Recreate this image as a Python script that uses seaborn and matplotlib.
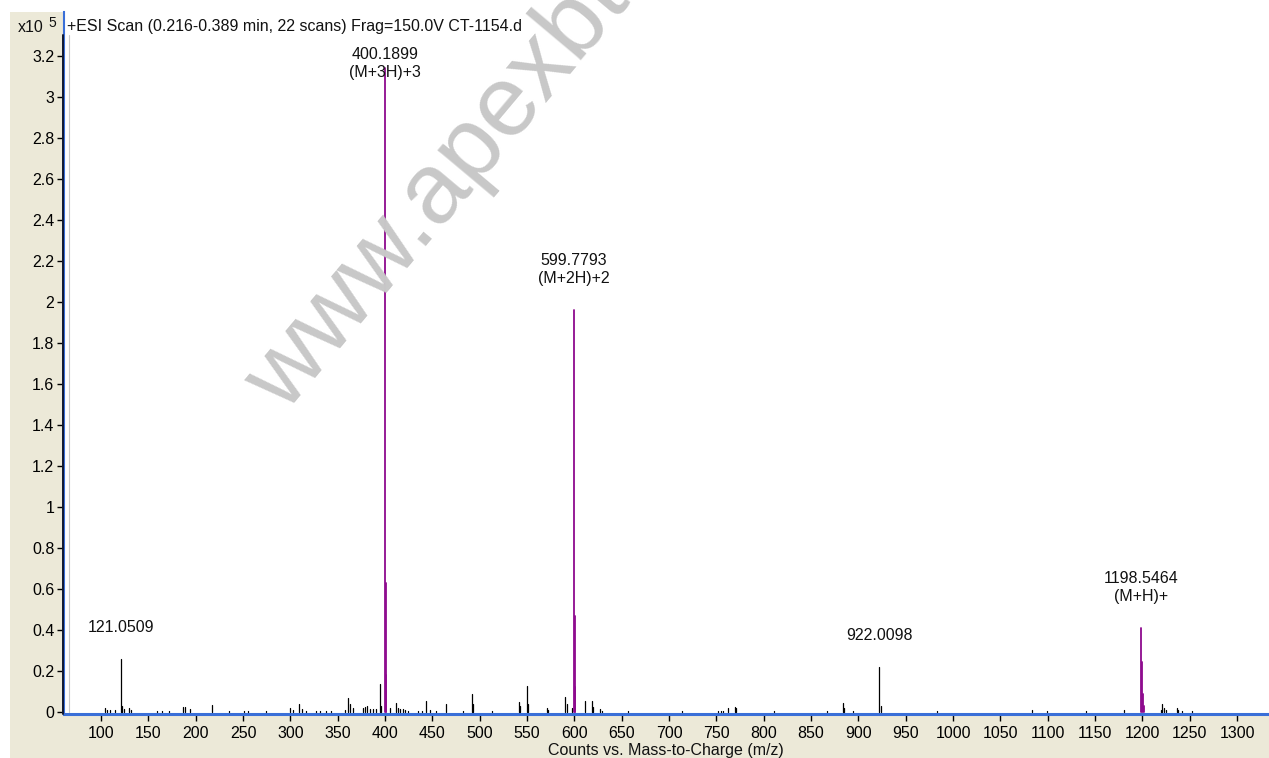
import matplotlib
matplotlib.use("Agg")
import matplotlib.pyplot as plt
from matplotlib.patches import Rectangle
from matplotlib.lines import Line2D
import seaborn as sns
import pandas as pd

# ---------------- data (intensities in units of 1e5 counts) ----------------
minor_mz = [104.2, 106.8, 109.3, 114.6, 121.05, 122.1, 123.8, 129.2, 131.5, 158.8,
            164.0, 171.7, 186.8, 188.9, 194.0, 216.9, 235.0, 251.5, 255.0, 274.0,
            299.6, 303.0, 309.5, 312.0, 317.0, 327.5, 331.8, 338.0, 343.3, 357.7,
            361.2, 363.0, 366.5, 376.4, 378.8, 380.5, 384.0, 387.5, 390.3, 394.7,
            395.8, 405.3, 411.3, 413.4, 415.8, 418.7, 421.5, 424.0, 435.0, 438.7,
            443.3, 447.5, 453.9, 464.0, 482.4, 491.5, 493.0, 513.0, 541.5, 543.0,
            549.6, 550.8, 570.7, 571.8, 590.5, 592.0, 597.0, 611.3, 618.3, 620.0,
            627.0, 629.0, 657.0, 713.3, 752.0, 755.0, 757.5, 762.6, 769.7, 771.0,
            810.8, 866.5, 883.4, 884.8, 894.0, 922.0098, 923.5, 982.6, 1083.6, 1098.8,
            1141.0, 1180.6, 1219.4, 1221.0, 1222.8, 1224.5, 1236.3, 1238.0, 1241.5, 1252.0]
minor_int = [0.02, 0.01, 0.008, 0.008, 0.26, 0.03, 0.015, 0.02, 0.008, 0.005,
             0.005, 0.005, 0.026, 0.026, 0.015, 0.033, 0.005, 0.005, 0.005, 0.005,
             0.02, 0.01, 0.04, 0.015, 0.005, 0.005, 0.005, 0.005, 0.005, 0.01,
             0.067, 0.04, 0.02, 0.02, 0.025, 0.03, 0.015, 0.015, 0.015, 0.137,
             0.03, 0.02, 0.045, 0.02, 0.015, 0.015, 0.008, 0.005, 0.005, 0.005,
             0.054, 0.01, 0.005, 0.04, 0.005, 0.086, 0.04, 0.005, 0.047, 0.03,
             0.125, 0.04, 0.02, 0.01, 0.072, 0.04, 0.02, 0.052, 0.052, 0.025,
             0.015, 0.005, 0.005, 0.005, 0.005, 0.005, 0.005, 0.02, 0.026, 0.02,
             0.005, 0.005, 0.045, 0.02, 0.005, 0.22, 0.03, 0.005, 0.01, 0.005,
             0.005, 0.01, 0.01, 0.04, 0.02, 0.01, 0.02, 0.01, 0.005, 0.005]

major_mz = [400.1899, 400.52, 400.86, 599.7793, 600.28, 600.78,
            1198.5464, 1199.55, 1200.55, 1201.55]
major_int = [3.14, 0.63, 0.18, 1.96, 0.47, 0.12, 0.41, 0.245, 0.09, 0.03]

label_mz = [121.0509, 400.1899, 599.7793, 922.0098, 1198.5464]
label_int = [0.26, 3.14, 1.96, 0.22, 0.41]
label_text = ["121.0509", "400.1899\n(M+3H)+3", "599.7793\n(M+2H)+2",
              "922.0098", "1198.5464\n(M+H)+"]

x_ticks = list(range(100, 1301, 50))
y_ticks = [0, 0.2, 0.4, 0.6, 0.8, 1, 1.2, 1.4, 1.6, 1.8, 2, 2.2, 2.4, 2.6, 2.8, 3, 3.2]

title_text = "+ESI Scan (0.216-0.389 min, 22 scans) Frag=150.0V CT-1154.d"
xlabel_text = "Counts vs. Mass-to-Charge (m/z)"
watermark_text = "www.apexbt.com"

# ---------------- style ----------------
sns.set_style("white")
plt.rcParams["font.family"] = ["Liberation Sans Narrow", "Liberation Sans", "DejaVu Sans"]
plt.rcParams["font.size"] = 11.5

W, H = 1269, 758
fig = plt.figure(figsize=(W / 100, H / 100), dpi=100)
fig.patch.set_facecolor("white")
fig.add_artist(Rectangle((10 / W, 0), 1 - 10 / W, (H - 12) / H,
                         transform=fig.transFigure, facecolor="#ECE9D8",
                         edgecolor="none", zorder=0))

ax = fig.add_axes([64 / W, (H - 714) / H, 1 - 64 / W, (714 - 12) / H])
ax.set_facecolor("white")


def sticks(mz, inten):
    rows = []
    for i, (m, h) in enumerate(zip(mz, inten)):
        rows.append((i, m, 0.0))
        rows.append((i, m, h))
    return pd.DataFrame(rows, columns=["peak", "mz", "counts"])


sns.lineplot(data=sticks(minor_mz, minor_int), x="mz", y="counts", units="peak",
             estimator=None, sort=False, color="black", lw=0.9, ax=ax, legend=False,
             zorder=3)
sns.lineplot(data=sticks(major_mz, major_int), x="mz", y="counts", units="peak",
             estimator=None, sort=False, color="#8E0A8E", lw=1.3, ax=ax, legend=False,
             zorder=4)

ax.set_xlim(60.9, 1333.8)
ax.set_ylim(-0.01, 3.415)
ax.set_xticks(x_ticks)
ax.set_xticklabels([str(t) for t in x_ticks])
ax.set_yticks(y_ticks)
ax.set_yticklabels([("%g" % t) for t in y_ticks])
ax.set_xlabel("")
ax.set_ylabel("")
ax.tick_params(axis="both", direction="out", length=5, width=1, color="black",
               labelcolor="black", labelsize=11.5)
ax.tick_params(axis="x", pad=4, bottom=True)
ax.tick_params(axis="y", pad=2, left=True)

for s in ["top", "right"]:
    ax.spines[s].set_visible(False)
ax.spines["left"].set_color("#3A6FD8")
ax.spines["left"].set_linewidth(1.5)
ax.spines["bottom"].set_color("#3A6FD8")
ax.spines["bottom"].set_linewidth(2.2)

# black inner frame line on the left, as in the instrument software
fig.add_artist(Line2D([62.5 / W, 62.5 / W], [(H - 714) / H, (H - 35) / H],
                      transform=fig.transFigure, color="#101830", lw=1.4, zorder=5))
fig.add_artist(Line2D([68.5 / W, 68.5 / W], [(H - 712) / H, (H - 35) / H],
                      transform=fig.transFigure, color="#C8C8C8", lw=0.8, zorder=5))

# peak annotations
for m, h, t in zip(label_mz, label_int, label_text):
    anchor = min(h, 2.965)
    ax.annotate(t, xy=(m, anchor), xytext=(0, 24), textcoords="offset pixels",
                ha="center", va="bottom", fontsize=11.5, color="#111111",
                linespacing=1.25, zorder=6)

# header texts
fig.text(67 / W, (H - 27) / H, title_text, ha="left", va="center",
         fontsize=11.5, color="#111111")
fig.text(18 / W, (H - 28) / H, "x10", ha="left", va="center", fontsize=11.5,
         color="#111111")
fig.text(48 / W, (H - 23) / H, "5", ha="left", va="center", fontsize=10,
         color="#111111")
fig.text(666 / W, (H - 751) / H, xlabel_text, ha="center", va="center",
         fontsize=11.5, color="#111111")

# watermark
fig.text(285 / W, (H - 415) / H, watermark_text, ha="left", va="baseline",
         rotation=50, rotation_mode="anchor", fontsize=72, color="#C8C8C8",
         family=["Liberation Sans", "DejaVu Sans"], zorder=1)

fig.savefig("out.png", dpi=100, facecolor=fig.get_facecolor())
